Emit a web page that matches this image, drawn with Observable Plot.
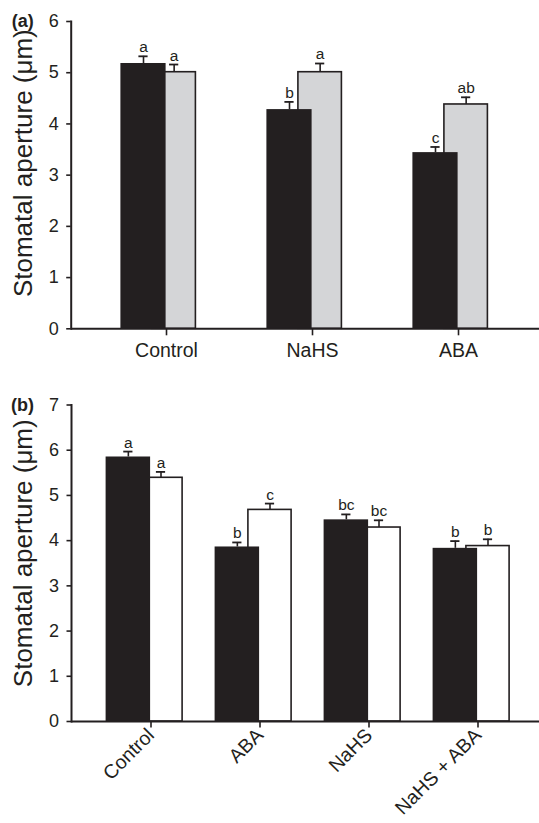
<!DOCTYPE html>
<html>
<head>
<meta charset="utf-8">
<script src="https://cdn.jsdelivr.net/npm/d3@7"></script>
<script src="https://cdn.jsdelivr.net/npm/@observablehq/plot@0.6"></script>
<style>
  html, body { margin: 0; padding: 0; background: #fff; }
  #chart { width: 539px; }
  #chart svg { display: block; }
</style>
</head>
<body>
<div id="chart"></div>
<script>
// ---------- Panel (a) data ----------
const catsA = ["Control", "NaHS", "ABA"];
const blackA = [5.18, 4.28, 3.44];
const blackErrA = [0.14, 0.15, 0.11];
const blackLetA = ["a", "b", "c"];
const grayA = [5.01, 5.01, 4.38];
const grayErrA = [0.15, 0.17, 0.14];
const grayLetA = ["a", "a", "ab"];
const yTicksA = [0, 1, 2, 3, 4, 5, 6];

// ---------- Panel (b) data ----------
const catsB = ["Control", "ABA", "NaHS", "NaHS + ABA"];
const blackB = [5.85, 3.86, 4.46, 3.83];
const blackErrB = [0.12, 0.10, 0.12, 0.16];
const blackLetB = ["a", "b", "bc", "b"];
const whiteB = [5.39, 4.68, 4.29, 3.88];
const whiteErrB = [0.13, 0.14, 0.16, 0.15];
const whiteLetB = ["a", "c", "bc", "b"];
const yTicksB = [0, 1, 2, 3, 4, 5, 6, 7];

const yLabel = "Stomatal aperture (μm)";
const INK = "#231f20";
const FONT = "'Liberation Sans', Arial, Helvetica, sans-serif";

function rows(cats, vals, errs, lets) {
  return cats.map((c, i) => ({cat: c, v: vals[i], e: errs[i], top: vals[i] + errs[i], let: lets[i]}));
}

function panel(cfg) {
  const {cats, dark, light, lightFill, yMax, yTicks, tag, height, marginTop, marginBottom,
         marginLeft, xInsetLeft, xInsetRight, half, darkL, darkR, lightL, lightR, rotate} = cfg;
  const darkC = (darkL + darkR) / 2;   // offset of dark bar center from band center
  const lightC = (lightL + lightR) / 2;
  const capHalf = 5;
  return Plot.plot({
    width: 539,
    height,
    marginTop,
    marginBottom,
    marginLeft,
    marginRight: 0,
    style: {fontFamily: FONT, color: INK, background: "#fff", overflow: "visible"},
    x: {domain: cats, padding: 0, insetLeft: xInsetLeft, insetRight: xInsetRight, label: null},
    y: {domain: [0, yMax], label: null},
    marks: [
      // light bars (drawn first, partly hidden behind dark ones)
      Plot.barY(light, {x: "cat", y: "v", fill: lightFill, stroke: INK, strokeWidth: 1.6,
        insetLeft: half + lightL, insetRight: half - lightR}),
      // dark bars
      Plot.barY(dark, {x: "cat", y: "v", fill: INK,
        insetLeft: half + darkL, insetRight: half - darkR}),
      // error bars
      Plot.ruleX(dark, {x: "cat", y1: "v", y2: "top", dx: darkC, stroke: INK, strokeWidth: 1.6}),
      Plot.ruleX(light, {x: "cat", y1: "v", y2: "top", dx: lightC, stroke: INK, strokeWidth: 1.6}),
      Plot.tickY(dark, {x: "cat", y: "top", stroke: INK, strokeWidth: 1.8,
        insetLeft: half + darkC - capHalf, insetRight: half - darkC - capHalf}),
      Plot.tickY(light, {x: "cat", y: "top", stroke: INK, strokeWidth: 1.8,
        insetLeft: half + lightC - capHalf, insetRight: half - lightC - capHalf}),
      // significance letters
      Plot.text(dark, {x: "cat", y: "top", text: "let", dx: darkC, dy: -4, lineAnchor: "bottom",
        fontSize: 15.5, fill: INK}),
      Plot.text(light, {x: "cat", y: "top", text: "let", dx: lightC, dy: -4, lineAnchor: "bottom",
        fontSize: 15.5, fill: INK}),
      // axes
      Plot.axisY({ticks: yTicks, tickFormat: d3.format("d"), tickSize: 4.5, tickPadding: 8,
        fontSize: 18, stroke: INK, strokeWidth: 1.6, fill: INK, label: null}),
      Plot.axisX(rotate
        ? {tickSize: 6.5, tickPadding: 4, tickRotate: -45, fontSize: 19.5, stroke: INK, strokeWidth: 1.6, fill: INK, label: null}
        : {tickSize: 7, tickPadding: 7, fontSize: 19.5, stroke: INK, strokeWidth: 1.6, fill: INK, label: null}),
      Plot.frame({anchor: "left", stroke: INK, strokeWidth: 2}),
      Plot.ruleY([0], {stroke: INK, strokeWidth: 2}),
      // y-axis title
      Plot.text([yLabel], {frameAnchor: "left", rotate: -90, dx: cfg.labelDx, dy: cfg.labelDy,
        textAnchor: "middle", lineAnchor: "middle", fontSize: 26, fill: INK}),
      // panel tag
      Plot.text([tag], {frameAnchor: "top-left", dx: -37.5, dy: 0, textAnchor: "end",
        lineAnchor: "middle", fontSize: 18, fontWeight: "bold", fill: INK})
    ]
  });
}

const chart = document.getElementById("chart");

chart.append(panel({
  cats: catsA,
  dark: rows(catsA, blackA, blackErrA, blackLetA),
  light: rows(catsA, grayA, grayErrA, grayLetA),
  lightFill: "#d4d5d7",
  yMax: 6, yTicks: yTicksA, tag: "(a)",
  height: 375, marginTop: 21, marginBottom: 46.7, marginLeft: 70.7,
  xInsetLeft: 21.2, xInsetRight: 6.7, half: 73.4,
  darkL: -46, darkR: 0, lightL: -14.5, lightR: 29.8,
  labelDx: -48, labelDy: -12, rotate: false
}));

chart.append(panel({
  cats: catsB,
  dark: rows(catsB, blackB, blackErrB, blackLetB),
  light: rows(catsB, whiteB, whiteErrB, whiteLetB),
  lightFill: "#ffffff",
  yMax: 7, yTicks: yTicksB, tag: "(b)",
  height: 448, marginTop: 29.5, marginBottom: 102, marginLeft: 71,
  xInsetLeft: 23.1, xInsetRight: 5.8, half: 54.9,
  darkL: -45.3, darkR: 0, lightL: -12, lightR: 32,
  labelDx: -48, labelDy: -10, rotate: true
}));
</script>
</body>
</html>
